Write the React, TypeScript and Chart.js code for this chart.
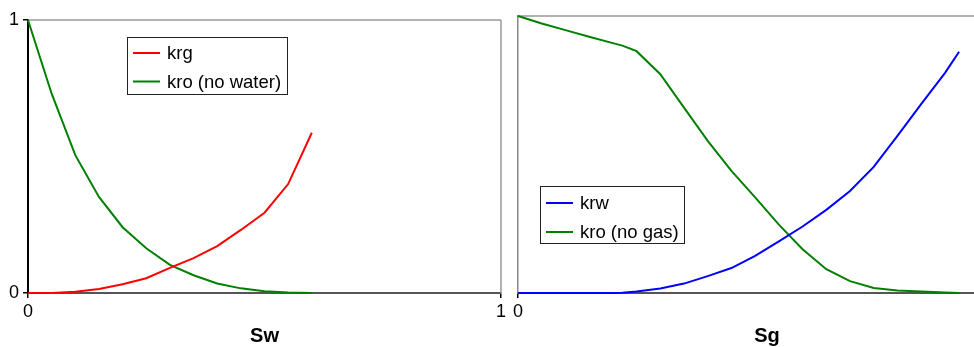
import React, { useEffect, useRef } from 'react';
import { Chart, registerables } from 'chart.js';

Chart.register(...registerables);

// ---- Data ----
const swValues = [0, 0.05, 0.1, 0.15, 0.2, 0.25, 0.3, 0.35, 0.4, 0.45, 0.5, 0.55, 0.6];
const krgValues = [0, 0, 0.005, 0.015, 0.032, 0.054, 0.092, 0.128, 0.172, 0.231, 0.294, 0.399, 0.587];
const kroNoWaterValues = [1, 0.73, 0.505, 0.352, 0.241, 0.164, 0.103, 0.065, 0.035, 0.017, 0.006, 0.002, 0];

const sgValues = [0, 0.05, 0.1, 0.15, 0.2, 0.22, 0.25, 0.3, 0.35, 0.4, 0.45, 0.5, 0.55, 0.6, 0.65, 0.7, 0.75, 0.8, 0.85, 0.9, 0.93];
const krwValues = [0, 0, 0, 0, 0, 0.001, 0.005, 0.016, 0.034, 0.061, 0.09, 0.134, 0.186, 0.24, 0.3, 0.368, 0.455, 0.567, 0.682, 0.794, 0.871];
const kroNoGasValues = [1, 0.973, 0.949, 0.925, 0.902, 0.893, 0.873, 0.79, 0.669, 0.549, 0.441, 0.345, 0.247, 0.158, 0.086, 0.043, 0.018, 0.009, 0.005, 0.002, 0];

const leftLabels = ['krg', 'kro (no water)'];
const rightLabels = ['krw', 'kro (no gas)'];
const leftTitle = 'Sw';
const rightTitle = 'Sg';

const FONT = "'Liberation Sans', Arial, Helvetica, sans-serif";

const toPoints = (xs: number[], ys: number[]) => xs.map((x, i) => ({ x, y: ys[i] }));

const framePlugin = {
  id: 'frame',
  beforeDatasetsDraw(chart: any, _args: any, opts: any) {
    const { ctx, chartArea: a } = chart;
    ctx.save();
    ctx.strokeStyle = '#999';
    ctx.lineWidth = 1.5;
    ctx.beginPath();
    ctx.moveTo(a.left, a.top);
    ctx.lineTo(a.right, a.top);
    if (opts.right) {
      ctx.moveTo(a.right, a.top);
      ctx.lineTo(a.right, a.bottom);
    }
    ctx.stroke();
    ctx.restore();
  },
  afterDatasetsDraw(chart: any, _args: any, opts: any) {
    const lg = opts.legend;
    if (!lg) return;
    const { ctx } = chart;
    ctx.save();
    ctx.fillStyle = '#fff';
    ctx.fillRect(lg.x, lg.y, lg.w, lg.h);
    ctx.strokeStyle = '#222';
    ctx.lineWidth = 1;
    ctx.strokeRect(lg.x + 0.5, lg.y + 0.5, lg.w, lg.h);
    ctx.font = `18.5px ${FONT}`;
    ctx.textBaseline = 'middle';
    ctx.textAlign = 'left';
    chart.data.datasets.forEach((ds: any, i: number) => {
      const y = lg.y + lg.first + i * lg.gap;
      ctx.strokeStyle = ds.borderColor;
      ctx.lineWidth = 2;
      ctx.beginPath();
      ctx.moveTo(lg.x + 6, y);
      ctx.lineTo(lg.x + 33, y);
      ctx.stroke();
      ctx.fillStyle = '#000';
      ctx.fillText(ds.label, lg.x + 40, y + 1);
    });
    ctx.restore();
  },
};

function makeConfig(kind: 'left' | 'right'): any {
  const isLeft = kind === 'left';
  const datasets = isLeft
    ? [
        { label: leftLabels[0], data: toPoints(swValues, krgValues), borderColor: '#ff0000' },
        { label: leftLabels[1], data: toPoints(swValues, kroNoWaterValues), borderColor: '#008000' },
      ]
    : [
        { label: rightLabels[0], data: toPoints(sgValues, krwValues), borderColor: '#0000ff' },
        { label: rightLabels[1], data: toPoints(sgValues, kroNoGasValues), borderColor: '#008000' },
      ];
  return {
    type: 'line',
    data: {
      datasets: datasets.map((d) => ({
        ...d,
        borderWidth: 2,
        pointRadius: 0,
        tension: 0,
        fill: false,
        clip: 4,
      })),
    },
    options: {
      animation: false,
      responsive: false,
      events: [],
      layout: { padding: isLeft ? { left: 0, top: 20, right: 9, bottom: 0 } : { left: 0, top: 16, right: 4, bottom: 0 } },
      plugins: {
        legend: { display: false },
        tooltip: { enabled: false },
        frame: isLeft
          ? { right: true, legend: { x: 127, y: 37, w: 160, h: 57, first: 16, gap: 28.5 } }
          : { right: false, legend: { x: 30, y: 186, w: 144, h: 57, first: 17, gap: 29 } },
      },
      scales: {
        x: {
          type: 'linear',
          position: 'bottom',
          min: 0,
          max: isLeft ? 1 : 1.05,
          afterBuildTicks: (s: any) => {
            s.ticks = s.ticks.filter((t: any) => (isLeft ? t.value === 0 || t.value === 1 : t.value === 0));
          },
          ticks: {
            stepSize: 1,
            color: '#000',
            font: { family: FONT, size: 18 },
            padding: 3,
            maxRotation: 0,
            autoSkip: false,
          },
          grid: { drawOnChartArea: false, drawTicks: true, tickLength: 5, color: '#000', lineWidth: 1.5 },
          border: { color: '#555', width: 2 },
          title: {
            display: true,
            text: isLeft ? leftTitle : rightTitle,
            color: '#000',
            font: { family: FONT, size: 20, weight: 'bold', lineHeight: 1 },
            padding: { top: 0, bottom: 1 },
          },
          afterFit: (s: any) => {
            s.height = 54;
          },
        },
        y: {
          type: 'linear',
          min: 0,
          max: 1,
          ticks: {
            display: isLeft,
            stepSize: 1,
            color: '#000',
            font: { family: FONT, size: 18 },
            padding: 4,
          },
          grid: { drawOnChartArea: false, drawTicks: isLeft, tickLength: isLeft ? 5 : 0, color: '#000', lineWidth: 1.5 },
          border: { color: isLeft ? '#000' : '#888', width: isLeft ? 2 : 1.5 },
          afterFit: (s: any) => {
            s.width = isLeft ? 28 : 8;
          },
        },
      },
    },
    plugins: [framePlugin],
  };
}

function Panel({ kind, left, width }: { kind: 'left' | 'right'; left: number; width: number }) {
  const ref = useRef<HTMLCanvasElement | null>(null);
  useEffect(() => {
    if (!ref.current) return;
    const chart = new Chart(ref.current, makeConfig(kind));
    return () => chart.destroy();
  }, [kind]);
  return (
    <canvas
      ref={ref}
      width={width}
      height={347}
      style={{ position: 'absolute', left, top: 0, width, height: 347, display: 'block' }}
    />
  );
}

export default function App() {
  return (
    <div
      style={{
        position: 'absolute',
        left: 0,
        top: 0,
        width: 974,
        height: 347,
        overflow: 'hidden',
        background: '#fff',
      }}
    >
      <Panel kind="left" left={0} width={510} />
      <Panel kind="right" left={510} width={510} />
    </div>
  );
}
